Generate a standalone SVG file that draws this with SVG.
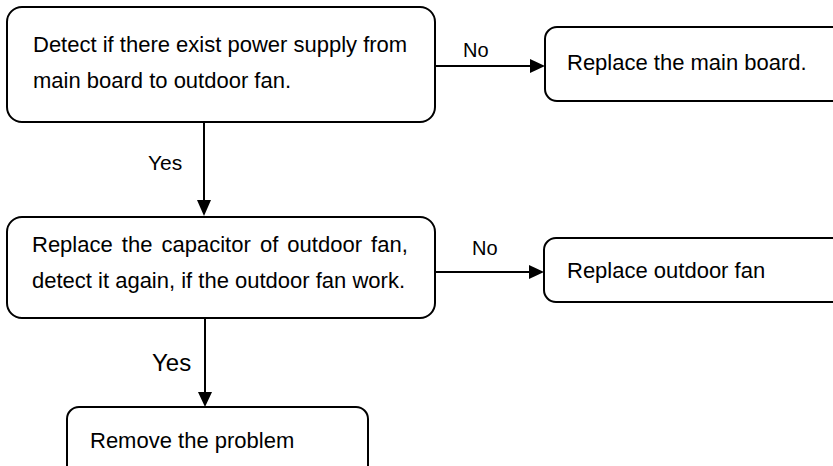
<svg xmlns="http://www.w3.org/2000/svg" width="833" height="466" viewBox="0 0 833 466">
  <defs>
    <style>
      .box { fill: #fff; stroke: #000; stroke-width: 2; }
      .t { font-family: "Liberation Sans", Arial, sans-serif; font-size: 22px; fill: #000; }
      .lbl { font-family: "Liberation Sans", Arial, sans-serif; font-size: 20px; fill: #000; }
      .lbl1 { font-family: "Liberation Sans", Arial, sans-serif; font-size: 21px; fill: #000; }
      .lbl2 { font-family: "Liberation Sans", Arial, sans-serif; font-size: 24px; fill: #000; }
      .conn { stroke: #000; stroke-width: 2; fill: none; }
      .head { fill: #000; }
    </style>
  </defs>
  <rect width="833" height="466" fill="#fff"/>
  <g id="connectors">
    <line class="conn" x1="435" y1="66" x2="532" y2="66"/>
    <path class="head" d="M545,66 L530,59 L530,73 Z"/>
    <text class="lbl" x="463" y="57">No</text>
    <line class="conn" x1="204" y1="123" x2="204" y2="202"/>
    <path class="head" d="M204,216 L197,200 L211,200 Z"/>
    <text class="lbl1" x="148" y="170">Yes</text>
    <line class="conn" x1="435" y1="272" x2="531" y2="272"/>
    <path class="head" d="M544,272 L529,265 L529,279 Z"/>
    <text class="lbl" x="472" y="255">No</text>
    <line class="conn" x1="205" y1="319" x2="205" y2="394"/>
    <path class="head" d="M205,407 L198,392 L212,392 Z"/>
    <text class="lbl2" x="152" y="371">Yes</text>
  </g>
  <g id="node-detect-power">
    <rect class="box" x="7" y="7" width="428" height="115" rx="15" ry="15"/>
    <text class="t" x="33" y="52">Detect if there exist power supply from</text>
    <text class="t" x="33" y="88">main board to outdoor fan.</text>
  </g>
  <g id="node-replace-board">
    <rect class="box" x="545" y="27" width="310" height="74" rx="12" ry="12"/>
    <text class="t" x="567" y="70">Replace the main board.</text>
  </g>
  <g id="node-replace-capacitor">
    <rect class="box" x="7" y="217" width="428" height="101" rx="15" ry="15"/>
    <text class="t" x="32" y="252" word-spacing="3">Replace the capacitor of outdoor fan,</text>
    <text class="t" x="32" y="288">detect it again, if the outdoor fan work.</text>
  </g>
  <g id="node-replace-fan">
    <rect class="box" x="544" y="238" width="310" height="64" rx="12" ry="12"/>
    <text class="t" x="567" y="278">Replace outdoor fan</text>
  </g>
  <g id="node-remove-problem">
    <rect class="box" x="67" y="407" width="301" height="80" rx="12" ry="12"/>
    <text class="t" x="90" y="448">Remove the problem</text>
  </g>
</svg>
